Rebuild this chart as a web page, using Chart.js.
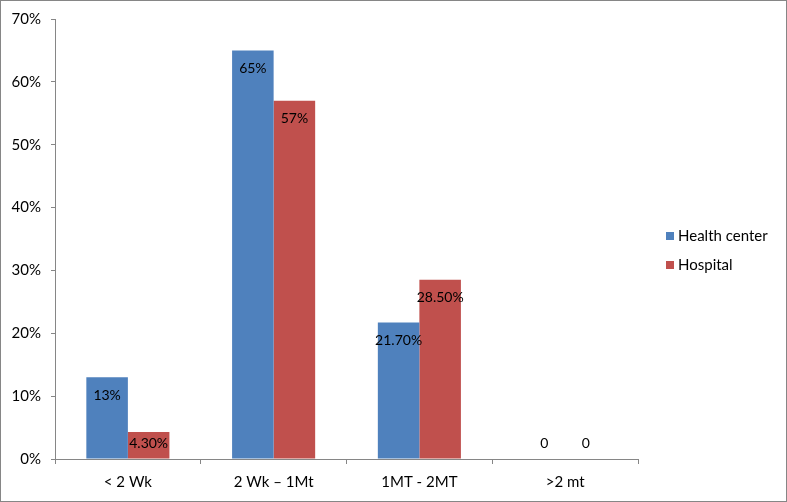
<!DOCTYPE html>
<html>
<head>
<meta charset="utf-8">
<script src="https://cdn.jsdelivr.net/npm/chart.js@4/dist/chart.umd.min.js"></script>
<style>
html,body{margin:0;padding:0;background:#fff;}
#wrap{width:787px;height:502px;position:relative;}
</style>
</head>
<body>
<div id="wrap"><canvas id="c" width="787" height="502"></canvas></div>
<script>
const categories = ["< 2 Wk", "2 Wk \u2013 1Mt", "1MT - 2MT", ">2 mt"];
const healthCenter = [13, 65, 21.7, 0];
const hospital = [4.3, 57, 28.5, 0];
const healthCenterLabels = ["13%", "65%", "21.70%", "0"];
const hospitalLabels = ["4.30%", "57%", "28.50%", "0"];
const yTicks = [0, 10, 20, 30, 40, 50, 60, 70];

const FONT = "Lato, 'Noto Sans', 'Liberation Sans', sans-serif";
const AXIS = "#868686";

const valueLabels = {
  id: "valueLabels",
  afterDatasetsDraw(chart) {
    const ctx = chart.ctx;
    const base = chart.scales.y.getPixelForValue(0);
    ctx.save();
    ctx.font = "14px " + FONT;
    ctx.fillStyle = "#000";
    ctx.textAlign = "center";
    ctx.textBaseline = "middle";
    chart.data.datasets.forEach((ds, i) => {
      const meta = chart.getDatasetMeta(i);
      meta.data.forEach((bar, j) => {
        const y = Math.min(bar.y + 18, base - 16);
        ctx.fillText(ds.valueText[j], bar.x, y);
      });
    });
    ctx.restore();
  }
};

const customLegend = {
  id: "customLegend",
  afterDraw(chart) {
    const ctx = chart.ctx;
    ctx.save();
    ctx.font = "15px " + FONT;
    ctx.textBaseline = "middle";
    ctx.textAlign = "left";
    const rows = [236, 265];
    chart.data.datasets.forEach((ds, i) => {
      ctx.fillStyle = ds.backgroundColor;
      ctx.fillRect(666, rows[i] - 4, 8, 8);
      ctx.fillStyle = "#000";
      ctx.fillText(ds.label, 678, rows[i]);
    });
    ctx.strokeStyle = AXIS;
    ctx.lineWidth = 1;
    ctx.strokeRect(0.5, 0.5, chart.width - 1, chart.height - 1);
    ctx.restore();
  }
};

new Chart(document.getElementById("c"), {
  type: "bar",
  data: {
    labels: categories,
    datasets: [
      { label: "Health center", data: healthCenter, valueText: healthCenterLabels, backgroundColor: "#4F81BD" },
      { label: "Hospital", data: hospital, valueText: hospitalLabels, backgroundColor: "#C0504D" }
    ]
  },
  options: {
    responsive: false,
    animation: false,
    devicePixelRatio: 1,
    layout: { padding: { left: 0, top: 19, right: 149, bottom: 0 } },
    plugins: { legend: { display: false }, tooltip: { enabled: false } },
    datasets: { bar: { barPercentage: 1, categoryPercentage: 0.57 } },
    scales: {
      x: {
        grid: { display: true, drawOnChartArea: false, offset: true, color: AXIS, tickLength: 5 },
        border: { color: AXIS },
        ticks: { color: "#000", font: { family: FONT, size: 15 }, padding: 9, maxRotation: 0 },
        afterFit(s) { s.height = 43; }
      },
      y: {
        min: 0, max: 70,
        afterBuildTicks(s) { s.ticks = yTicks.map(v => ({ value: v })); },
        grid: { display: true, drawOnChartArea: false, color: AXIS, tickLength: 4 },
        border: { color: AXIS },
        ticks: { color: "#000", font: { family: FONT, size: 15 }, padding: 10, callback: v => v + "%" },
        afterFit(s) { s.width = 55; }
      }
    }
  },
  plugins: [valueLabels, customLegend]
});
</script>
</body>
</html>
